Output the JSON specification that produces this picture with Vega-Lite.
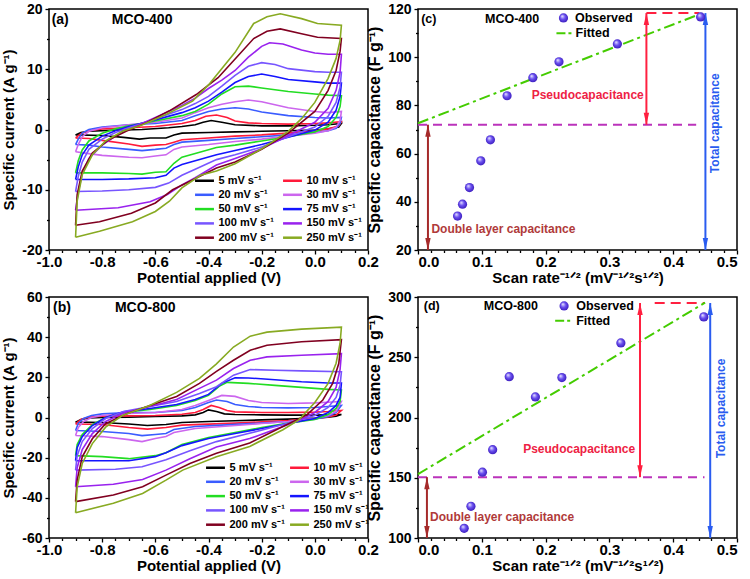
{
"$schema":"https://vega.github.io/schema/vega-lite/v6.json",
"padding":{"left":1,"top":1,"right":4,"bottom":4},
"background":"white",
"columns":2,
"spacing":{"row":47,"column":50},
"bounds":"flush",
"resolve":{"scale":{"color":"independent"},"legend":{"color":"independent"}},
"config":{
 "font":"Liberation Sans",
 "view":{"stroke":"black","strokeWidth":1.5},
 "axis":{"labelFont":"Liberation Sans","labelFontWeight":"bold","labelFontSize":14,"labelColor":"black","titleFont":"Liberation Sans","titleFontWeight":"bold","titleFontSize":15,"titleColor":"black","grid":false,"domain":false,"tickColor":"black","tickSize":4,"tickWidth":1.3,"labelPadding":3,"titlePadding":3,"labelOverlap":false},
 "axisX":{"labelPadding":0,"titlePadding":1.5},
 "axisY":{"labelPadding":3,"titlePadding":5},
 "text":{"font":"Liberation Sans","fontWeight":"bold"}
},
"datasets":{
"a":[
{"s":5,"i":0,"x":-0.9,"y":-0.9},{"s":5,"i":1,"x":-0.88,"y":-0.5},{"s":5,"i":2,"x":-0.85,"y":-0.3},{"s":5,"i":3,"x":-0.75,"y":-0.1},{"s":5,"i":4,"x":-0.65,"y":0},{"s":5,"i":5,"x":-0.55,"y":0.3},{"s":5,"i":6,"x":-0.5,"y":0.5},{"s":5,"i":7,"x":-0.45,"y":0.8},{"s":5,"i":8,"x":-0.42,"y":1.2},{"s":5,"i":9,"x":-0.39,"y":1.5},{"s":5,"i":10,"x":-0.35,"y":1.2},{"s":5,"i":11,"x":-0.3,"y":0.8},{"s":5,"i":12,"x":-0.2,"y":0.6},{"s":5,"i":13,"x":-0.1,"y":0.6},{"s":5,"i":14,"x":0,"y":0.7},{"s":5,"i":15,"x":0.05,"y":0.8},{"s":5,"i":16,"x":0.1,"y":1.0},{"s":5,"i":17,"x":0.09,"y":0.4},{"s":5,"i":18,"x":0.05,"y":0.1},{"s":5,"i":19,"x":0,"y":-0.1},{"s":5,"i":20,"x":-0.1,"y":-0.2},{"s":5,"i":21,"x":-0.2,"y":-0.3},{"s":5,"i":22,"x":-0.3,"y":-0.4},{"s":5,"i":23,"x":-0.4,"y":-0.5},{"s":5,"i":24,"x":-0.5,"y":-0.6},{"s":5,"i":25,"x":-0.53,"y":-0.9},{"s":5,"i":26,"x":-0.56,"y":-1.4},{"s":5,"i":27,"x":-0.62,"y":-1.4},{"s":5,"i":28,"x":-0.66,"y":-1.6},{"s":5,"i":29,"x":-0.72,"y":-1.3},{"s":5,"i":30,"x":-0.8,"y":-1.0},{"s":5,"i":31,"x":-0.9,"y":-0.9},
{"s":10,"i":0,"x":-0.9,"y":-1.4},{"s":10,"i":1,"x":-0.88,"y":-0.7},{"s":10,"i":2,"x":-0.85,"y":-0.2},{"s":10,"i":3,"x":-0.8,"y":0.1},{"s":10,"i":4,"x":-0.7,"y":0.3},{"s":10,"i":5,"x":-0.6,"y":0.5},{"s":10,"i":6,"x":-0.5,"y":1.0},{"s":10,"i":7,"x":-0.45,"y":1.5},{"s":10,"i":8,"x":-0.41,"y":2.2},{"s":10,"i":9,"x":-0.37,"y":2.4},{"s":10,"i":10,"x":-0.33,"y":2.0},{"s":10,"i":11,"x":-0.3,"y":1.4},{"s":10,"i":12,"x":-0.25,"y":1.1},{"s":10,"i":13,"x":-0.2,"y":1.0},{"s":10,"i":14,"x":-0.1,"y":0.9},{"s":10,"i":15,"x":0,"y":1.0},{"s":10,"i":16,"x":0.05,"y":1.1},{"s":10,"i":17,"x":0.1,"y":1.3},{"s":10,"i":18,"x":0.09,"y":0.6},{"s":10,"i":19,"x":0.05,"y":0.1},{"s":10,"i":20,"x":0,"y":-0.2},{"s":10,"i":21,"x":-0.1,"y":-0.6},{"s":10,"i":22,"x":-0.2,"y":-0.9},{"s":10,"i":23,"x":-0.3,"y":-1.1},{"s":10,"i":24,"x":-0.4,"y":-1.4},{"s":10,"i":25,"x":-0.5,"y":-1.7},{"s":10,"i":26,"x":-0.53,"y":-2.1},{"s":10,"i":27,"x":-0.56,"y":-2.5},{"s":10,"i":28,"x":-0.6,"y":-2.6},{"s":10,"i":29,"x":-0.65,"y":-2.8},{"s":10,"i":30,"x":-0.7,"y":-2.4},{"s":10,"i":31,"x":-0.8,"y":-1.8},{"s":10,"i":32,"x":-0.85,"y":-1.5},{"s":10,"i":33,"x":-0.9,"y":-1.4},
{"s":20,"i":0,"x":-0.9,"y":-2.5},{"s":20,"i":1,"x":-0.89,"y":-1.6},{"s":20,"i":2,"x":-0.875,"y":-0.6},{"s":20,"i":3,"x":-0.85,"y":0},{"s":20,"i":4,"x":-0.8,"y":0.4},{"s":20,"i":5,"x":-0.7,"y":0.8},{"s":20,"i":6,"x":-0.6,"y":1.0},{"s":20,"i":7,"x":-0.5,"y":1.5},{"s":20,"i":8,"x":-0.45,"y":2.3},{"s":20,"i":9,"x":-0.4,"y":3.0},{"s":20,"i":10,"x":-0.35,"y":3.4},{"s":20,"i":11,"x":-0.3,"y":3.6},{"s":20,"i":12,"x":-0.25,"y":3.4},{"s":20,"i":13,"x":-0.2,"y":2.9},{"s":20,"i":14,"x":-0.1,"y":2.3},{"s":20,"i":15,"x":0,"y":2.0},{"s":20,"i":16,"x":0.05,"y":1.9},{"s":20,"i":17,"x":0.1,"y":2.0},{"s":20,"i":18,"x":0.095,"y":1.0},{"s":20,"i":19,"x":0.08,"y":0.2},{"s":20,"i":20,"x":0.05,"y":-0.2},{"s":20,"i":21,"x":0,"y":-0.5},{"s":20,"i":22,"x":-0.1,"y":-0.9},{"s":20,"i":23,"x":-0.2,"y":-1.2},{"s":20,"i":24,"x":-0.3,"y":-1.5},{"s":20,"i":25,"x":-0.4,"y":-1.8},{"s":20,"i":26,"x":-0.5,"y":-2.1},{"s":20,"i":27,"x":-0.53,"y":-2.5},{"s":20,"i":28,"x":-0.56,"y":-3.1},{"s":20,"i":29,"x":-0.6,"y":-3.3},{"s":20,"i":30,"x":-0.65,"y":-3.5},{"s":20,"i":31,"x":-0.7,"y":-3.3},{"s":20,"i":32,"x":-0.8,"y":-2.9},{"s":20,"i":33,"x":-0.85,"y":-2.6},{"s":20,"i":34,"x":-0.9,"y":-2.5},
{"s":30,"i":0,"x":-0.9,"y":-3.7},{"s":30,"i":1,"x":-0.89,"y":-2.5},{"s":30,"i":2,"x":-0.875,"y":-1.2},{"s":30,"i":3,"x":-0.85,"y":-0.3},{"s":30,"i":4,"x":-0.8,"y":0.3},{"s":30,"i":5,"x":-0.7,"y":0.8},{"s":30,"i":6,"x":-0.6,"y":1.2},{"s":30,"i":7,"x":-0.5,"y":1.9},{"s":30,"i":8,"x":-0.45,"y":2.8},{"s":30,"i":9,"x":-0.4,"y":3.6},{"s":30,"i":10,"x":-0.35,"y":4.2},{"s":30,"i":11,"x":-0.3,"y":4.6},{"s":30,"i":12,"x":-0.25,"y":4.9},{"s":30,"i":13,"x":-0.2,"y":4.6},{"s":30,"i":14,"x":-0.15,"y":4.1},{"s":30,"i":15,"x":-0.1,"y":3.6},{"s":30,"i":16,"x":0,"y":3.0},{"s":30,"i":17,"x":0.05,"y":2.8},{"s":30,"i":18,"x":0.1,"y":3.0},{"s":30,"i":19,"x":0.095,"y":1.5},{"s":30,"i":20,"x":0.08,"y":0.4},{"s":30,"i":21,"x":0.05,"y":-0.2},{"s":30,"i":22,"x":0,"y":-0.6},{"s":30,"i":23,"x":-0.1,"y":-1.1},{"s":30,"i":24,"x":-0.2,"y":-1.6},{"s":30,"i":25,"x":-0.3,"y":-2.0},{"s":30,"i":26,"x":-0.4,"y":-2.5},{"s":30,"i":27,"x":-0.5,"y":-2.9},{"s":30,"i":28,"x":-0.53,"y":-3.3},{"s":30,"i":29,"x":-0.56,"y":-4.2},{"s":30,"i":30,"x":-0.6,"y":-4.4},{"s":30,"i":31,"x":-0.65,"y":-4.7},{"s":30,"i":32,"x":-0.7,"y":-4.6},{"s":30,"i":33,"x":-0.8,"y":-4.3},{"s":30,"i":34,"x":-0.85,"y":-4.0},{"s":30,"i":35,"x":-0.9,"y":-3.7},
{"s":50,"i":0,"x":-0.9,"y":-7.2},{"s":50,"i":1,"x":-0.89,"y":-5.2},{"s":50,"i":2,"x":-0.875,"y":-3.4},{"s":50,"i":3,"x":-0.85,"y":-1.9},{"s":50,"i":4,"x":-0.8,"y":-0.6},{"s":50,"i":5,"x":-0.75,"y":0.1},{"s":50,"i":6,"x":-0.7,"y":0.6},{"s":50,"i":7,"x":-0.6,"y":1.4},{"s":50,"i":8,"x":-0.5,"y":2.3},{"s":50,"i":9,"x":-0.45,"y":3.0},{"s":50,"i":10,"x":-0.4,"y":4.2},{"s":50,"i":11,"x":-0.35,"y":5.9},{"s":50,"i":12,"x":-0.3,"y":7.1},{"s":50,"i":13,"x":-0.25,"y":7.2},{"s":50,"i":14,"x":-0.2,"y":6.9},{"s":50,"i":15,"x":-0.1,"y":6.3},{"s":50,"i":16,"x":0,"y":5.9},{"s":50,"i":17,"x":0.05,"y":5.7},{"s":50,"i":18,"x":0.1,"y":5.6},{"s":50,"i":19,"x":0.095,"y":3.8},{"s":50,"i":20,"x":0.08,"y":2.0},{"s":50,"i":21,"x":0.05,"y":0.5},{"s":50,"i":22,"x":0,"y":-0.4},{"s":50,"i":23,"x":-0.1,"y":-1.2},{"s":50,"i":24,"x":-0.2,"y":-1.9},{"s":50,"i":25,"x":-0.3,"y":-2.6},{"s":50,"i":26,"x":-0.37,"y":-3.0},{"s":50,"i":27,"x":-0.45,"y":-4.0},{"s":50,"i":28,"x":-0.5,"y":-4.6},{"s":50,"i":29,"x":-0.53,"y":-5.6},{"s":50,"i":30,"x":-0.56,"y":-7.0},{"s":50,"i":31,"x":-0.6,"y":-7.1},{"s":50,"i":32,"x":-0.65,"y":-7.4},{"s":50,"i":33,"x":-0.7,"y":-7.3},{"s":50,"i":34,"x":-0.8,"y":-7.2},{"s":50,"i":35,"x":-0.9,"y":-7.2},
{"s":75,"i":0,"x":-0.9,"y":-8.3},{"s":75,"i":1,"x":-0.89,"y":-6.2},{"s":75,"i":2,"x":-0.875,"y":-4.2},{"s":75,"i":3,"x":-0.85,"y":-2.6},{"s":75,"i":4,"x":-0.8,"y":-1.1},{"s":75,"i":5,"x":-0.75,"y":-0.2},{"s":75,"i":6,"x":-0.7,"y":0.5},{"s":75,"i":7,"x":-0.6,"y":1.6},{"s":75,"i":8,"x":-0.5,"y":2.8},{"s":75,"i":9,"x":-0.45,"y":3.6},{"s":75,"i":10,"x":-0.4,"y":4.7},{"s":75,"i":11,"x":-0.35,"y":6.2},{"s":75,"i":12,"x":-0.3,"y":7.8},{"s":75,"i":13,"x":-0.25,"y":8.8},{"s":75,"i":14,"x":-0.2,"y":9.2},{"s":75,"i":15,"x":-0.15,"y":8.8},{"s":75,"i":16,"x":-0.1,"y":8.3},{"s":75,"i":17,"x":0,"y":7.9},{"s":75,"i":18,"x":0.05,"y":7.7},{"s":75,"i":19,"x":0.1,"y":7.7},{"s":75,"i":20,"x":0.095,"y":5.5},{"s":75,"i":21,"x":0.08,"y":3.2},{"s":75,"i":22,"x":0.05,"y":1.2},{"s":75,"i":23,"x":0,"y":-0.1},{"s":75,"i":24,"x":-0.1,"y":-1.3},{"s":75,"i":25,"x":-0.2,"y":-2.5},{"s":75,"i":26,"x":-0.3,"y":-3.5},{"s":75,"i":27,"x":-0.37,"y":-4.2},{"s":75,"i":28,"x":-0.45,"y":-5.2},{"s":75,"i":29,"x":-0.5,"y":-5.8},{"s":75,"i":30,"x":-0.53,"y":-6.4},{"s":75,"i":31,"x":-0.56,"y":-7.6},{"s":75,"i":32,"x":-0.6,"y":-8.0},{"s":75,"i":33,"x":-0.7,"y":-8.2},{"s":75,"i":34,"x":-0.8,"y":-8.3},{"s":75,"i":35,"x":-0.9,"y":-8.3},
{"s":100,"i":0,"x":-0.9,"y":-10.3},{"s":100,"i":1,"x":-0.89,"y":-7.8},{"s":100,"i":2,"x":-0.875,"y":-5.4},{"s":100,"i":3,"x":-0.85,"y":-3.3},{"s":100,"i":4,"x":-0.8,"y":-1.6},{"s":100,"i":5,"x":-0.75,"y":-0.5},{"s":100,"i":6,"x":-0.7,"y":0.3},{"s":100,"i":7,"x":-0.6,"y":1.8},{"s":100,"i":8,"x":-0.5,"y":3.3},{"s":100,"i":9,"x":-0.45,"y":4.3},{"s":100,"i":10,"x":-0.4,"y":5.5},{"s":100,"i":11,"x":-0.35,"y":7.2},{"s":100,"i":12,"x":-0.3,"y":9.0},{"s":100,"i":13,"x":-0.25,"y":10.5},{"s":100,"i":14,"x":-0.2,"y":11.1},{"s":100,"i":15,"x":-0.15,"y":10.8},{"s":100,"i":16,"x":-0.1,"y":10.1},{"s":100,"i":17,"x":0,"y":9.6},{"s":100,"i":18,"x":0.05,"y":9.5},{"s":100,"i":19,"x":0.1,"y":9.5},{"s":100,"i":20,"x":0.095,"y":7.0},{"s":100,"i":21,"x":0.08,"y":4.5},{"s":100,"i":22,"x":0.05,"y":2.2},{"s":100,"i":23,"x":0,"y":0.4},{"s":100,"i":24,"x":-0.1,"y":-1.2},{"s":100,"i":25,"x":-0.2,"y":-2.9},{"s":100,"i":26,"x":-0.3,"y":-4.2},{"s":100,"i":27,"x":-0.37,"y":-5.0},{"s":100,"i":28,"x":-0.45,"y":-6.6},{"s":100,"i":29,"x":-0.5,"y":-7.6},{"s":100,"i":30,"x":-0.55,"y":-8.9},{"s":100,"i":31,"x":-0.6,"y":-9.6},{"s":100,"i":32,"x":-0.7,"y":-10.0},{"s":100,"i":33,"x":-0.8,"y":-10.2},{"s":100,"i":34,"x":-0.9,"y":-10.3},
{"s":150,"i":0,"x":-0.9,"y":-13.4},{"s":150,"i":1,"x":-0.89,"y":-10.4},{"s":150,"i":2,"x":-0.875,"y":-7.4},{"s":150,"i":3,"x":-0.85,"y":-4.8},{"s":150,"i":4,"x":-0.8,"y":-2.6},{"s":150,"i":5,"x":-0.75,"y":-1.1},{"s":150,"i":6,"x":-0.7,"y":0.0},{"s":150,"i":7,"x":-0.6,"y":2.0},{"s":150,"i":8,"x":-0.5,"y":4.0},{"s":150,"i":9,"x":-0.45,"y":5.2},{"s":150,"i":10,"x":-0.4,"y":6.8},{"s":150,"i":11,"x":-0.35,"y":8.2},{"s":150,"i":12,"x":-0.3,"y":9.8},{"s":150,"i":13,"x":-0.25,"y":12.0},{"s":150,"i":14,"x":-0.2,"y":13.8},{"s":150,"i":15,"x":-0.17,"y":14.4},{"s":150,"i":16,"x":-0.12,"y":14.2},{"s":150,"i":17,"x":-0.05,"y":13.2},{"s":150,"i":18,"x":0,"y":12.7},{"s":150,"i":19,"x":0.05,"y":12.5},{"s":150,"i":20,"x":0.1,"y":12.5},{"s":150,"i":21,"x":0.095,"y":9.5},{"s":150,"i":22,"x":0.08,"y":6.5},{"s":150,"i":23,"x":0.05,"y":3.5},{"s":150,"i":24,"x":0,"y":1.2},{"s":150,"i":25,"x":-0.1,"y":-1.0},{"s":150,"i":26,"x":-0.2,"y":-3.2},{"s":150,"i":27,"x":-0.3,"y":-4.8},{"s":150,"i":28,"x":-0.37,"y":-5.9},{"s":150,"i":29,"x":-0.45,"y":-8.0},{"s":150,"i":30,"x":-0.5,"y":-9.2},{"s":150,"i":31,"x":-0.555,"y":-10.8},{"s":150,"i":32,"x":-0.62,"y":-12.0},{"s":150,"i":33,"x":-0.74,"y":-13.0},{"s":150,"i":34,"x":-0.9,"y":-13.4},
{"s":200,"i":0,"x":-0.9,"y":-15.9},{"s":200,"i":1,"x":-0.894,"y":-10.8},{"s":200,"i":2,"x":-0.875,"y":-6.9},{"s":200,"i":3,"x":-0.837,"y":-3.9},{"s":200,"i":4,"x":-0.775,"y":-1.7},{"s":200,"i":5,"x":-0.71,"y":-0.3},{"s":200,"i":6,"x":-0.635,"y":1.1},{"s":200,"i":7,"x":-0.547,"y":3.1},{"s":200,"i":8,"x":-0.446,"y":5.8},{"s":200,"i":9,"x":-0.364,"y":8.6},{"s":200,"i":10,"x":-0.3,"y":11.7},{"s":200,"i":11,"x":-0.23,"y":15.1},{"s":200,"i":12,"x":-0.18,"y":16.3},{"s":200,"i":13,"x":-0.13,"y":16.7},{"s":200,"i":14,"x":-0.05,"y":15.9},{"s":200,"i":15,"x":0.01,"y":15.3},{"s":200,"i":16,"x":0.1,"y":15.1},{"s":200,"i":17,"x":0.095,"y":13.0},{"s":200,"i":18,"x":0.08,"y":9.8},{"s":200,"i":19,"x":0.05,"y":6.5},{"s":200,"i":20,"x":0,"y":3.0},{"s":200,"i":21,"x":-0.1,"y":-0.6},{"s":200,"i":22,"x":-0.2,"y":-3.3},{"s":200,"i":23,"x":-0.3,"y":-5.4},{"s":200,"i":24,"x":-0.37,"y":-6.4},{"s":200,"i":25,"x":-0.47,"y":-8.6},{"s":200,"i":26,"x":-0.535,"y":-10.0},{"s":200,"i":27,"x":-0.6,"y":-12.2},{"s":200,"i":28,"x":-0.69,"y":-13.9},{"s":200,"i":29,"x":-0.81,"y":-15.3},{"s":200,"i":30,"x":-0.9,"y":-15.9},
{"s":250,"i":0,"x":-0.9,"y":-17.9},{"s":250,"i":1,"x":-0.894,"y":-11.9},{"s":250,"i":2,"x":-0.875,"y":-7.5},{"s":250,"i":3,"x":-0.837,"y":-4.2},{"s":250,"i":4,"x":-0.787,"y":-1.9},{"s":250,"i":5,"x":-0.724,"y":-0.3},{"s":250,"i":6,"x":-0.648,"y":0.8},{"s":250,"i":7,"x":-0.56,"y":2.5},{"s":250,"i":8,"x":-0.46,"y":4.7},{"s":250,"i":9,"x":-0.4,"y":7.4},{"s":250,"i":10,"x":-0.3,"y":12.8},{"s":250,"i":11,"x":-0.23,"y":17.6},{"s":250,"i":12,"x":-0.18,"y":18.7},{"s":250,"i":13,"x":-0.13,"y":19.2},{"s":250,"i":14,"x":-0.05,"y":18.4},{"s":250,"i":15,"x":0.01,"y":17.6},{"s":250,"i":16,"x":0.1,"y":17.3},{"s":250,"i":17,"x":0.095,"y":14.8},{"s":250,"i":18,"x":0.08,"y":11.8},{"s":250,"i":19,"x":0.05,"y":8.5},{"s":250,"i":20,"x":0,"y":4.5},{"s":250,"i":21,"x":-0.05,"y":1.8},{"s":250,"i":22,"x":-0.1,"y":-0.3},{"s":250,"i":23,"x":-0.2,"y":-3.2},{"s":250,"i":24,"x":-0.3,"y":-5.7},{"s":250,"i":25,"x":-0.37,"y":-6.9},{"s":250,"i":26,"x":-0.43,"y":-7.6},{"s":250,"i":27,"x":-0.5,"y":-9.7},{"s":250,"i":28,"x":-0.547,"y":-11.9},{"s":250,"i":29,"x":-0.6,"y":-13.6},{"s":250,"i":30,"x":-0.686,"y":-15.3},{"s":250,"i":31,"x":-0.81,"y":-16.9},{"s":250,"i":32,"x":-0.9,"y":-17.9}
],
"b":[
{"s":5,"i":0,"x":-0.9,"y":-2.3},{"s":5,"i":1,"x":-0.88,"y":-1.0},{"s":5,"i":2,"x":-0.85,"y":-0.2},{"s":5,"i":3,"x":-0.8,"y":0},{"s":5,"i":4,"x":-0.7,"y":0.2},{"s":5,"i":5,"x":-0.6,"y":0.5},{"s":5,"i":6,"x":-0.5,"y":0.8},{"s":5,"i":7,"x":-0.45,"y":1.3},{"s":5,"i":8,"x":-0.42,"y":2.5},{"s":5,"i":9,"x":-0.4,"y":3.8},{"s":5,"i":10,"x":-0.37,"y":3.0},{"s":5,"i":11,"x":-0.34,"y":1.8},{"s":5,"i":12,"x":-0.3,"y":1.5},{"s":5,"i":13,"x":-0.2,"y":1.3},{"s":5,"i":14,"x":-0.1,"y":1.2},{"s":5,"i":15,"x":0,"y":1.2},{"s":5,"i":16,"x":0.05,"y":1.3},{"s":5,"i":17,"x":0.1,"y":1.5},{"s":5,"i":18,"x":0.08,"y":0.6},{"s":5,"i":19,"x":0.05,"y":0.2},{"s":5,"i":20,"x":0,"y":-0.3},{"s":5,"i":21,"x":-0.1,"y":-0.8},{"s":5,"i":22,"x":-0.2,"y":-1.2},{"s":5,"i":23,"x":-0.3,"y":-1.6},{"s":5,"i":24,"x":-0.4,"y":-2.0},{"s":5,"i":25,"x":-0.5,"y":-2.5},{"s":5,"i":26,"x":-0.56,"y":-3.5},{"s":5,"i":27,"x":-0.63,"y":-4.0},{"s":5,"i":28,"x":-0.7,"y":-3.2},{"s":5,"i":29,"x":-0.8,"y":-2.5},{"s":5,"i":30,"x":-0.9,"y":-2.3},
{"s":10,"i":0,"x":-0.9,"y":-3.2},{"s":10,"i":1,"x":-0.88,"y":-1.0},{"s":10,"i":2,"x":-0.85,"y":0.2},{"s":10,"i":3,"x":-0.8,"y":0.6},{"s":10,"i":4,"x":-0.7,"y":0.8},{"s":10,"i":5,"x":-0.6,"y":1.0},{"s":10,"i":6,"x":-0.5,"y":1.6},{"s":10,"i":7,"x":-0.45,"y":2.5},{"s":10,"i":8,"x":-0.42,"y":4.0},{"s":10,"i":9,"x":-0.39,"y":6.0},{"s":10,"i":10,"x":-0.36,"y":5.0},{"s":10,"i":11,"x":-0.33,"y":3.5},{"s":10,"i":12,"x":-0.3,"y":2.8},{"s":10,"i":13,"x":-0.2,"y":2.5},{"s":10,"i":14,"x":-0.1,"y":2.5},{"s":10,"i":15,"x":0,"y":2.7},{"s":10,"i":16,"x":0.05,"y":3.0},{"s":10,"i":17,"x":0.1,"y":3.5},{"s":10,"i":18,"x":0.08,"y":1.2},{"s":10,"i":19,"x":0.05,"y":0.3},{"s":10,"i":20,"x":0,"y":-0.5},{"s":10,"i":21,"x":-0.1,"y":-1.5},{"s":10,"i":22,"x":-0.2,"y":-2.2},{"s":10,"i":23,"x":-0.3,"y":-2.8},{"s":10,"i":24,"x":-0.4,"y":-3.3},{"s":10,"i":25,"x":-0.5,"y":-3.8},{"s":10,"i":26,"x":-0.56,"y":-5.0},{"s":10,"i":27,"x":-0.63,"y":-5.8},{"s":10,"i":28,"x":-0.7,"y":-5.0},{"s":10,"i":29,"x":-0.8,"y":-3.5},{"s":10,"i":30,"x":-0.9,"y":-3.2},
{"s":20,"i":0,"x":-0.9,"y":-6.5},{"s":20,"i":1,"x":-0.89,"y":-3.0},{"s":20,"i":2,"x":-0.87,"y":-0.5},{"s":20,"i":3,"x":-0.84,"y":1.0},{"s":20,"i":4,"x":-0.8,"y":1.8},{"s":20,"i":5,"x":-0.7,"y":2.5},{"s":20,"i":6,"x":-0.6,"y":2.5},{"s":20,"i":7,"x":-0.5,"y":3.5},{"s":20,"i":8,"x":-0.45,"y":5.0},{"s":20,"i":9,"x":-0.4,"y":7.5},{"s":20,"i":10,"x":-0.37,"y":8.7},{"s":20,"i":11,"x":-0.33,"y":8.0},{"s":20,"i":12,"x":-0.3,"y":6.5},{"s":20,"i":13,"x":-0.25,"y":5.5},{"s":20,"i":14,"x":-0.2,"y":5.0},{"s":20,"i":15,"x":-0.1,"y":4.8},{"s":20,"i":16,"x":0,"y":5.0},{"s":20,"i":17,"x":0.05,"y":5.5},{"s":20,"i":18,"x":0.1,"y":6.0},{"s":20,"i":19,"x":0.08,"y":2.5},{"s":20,"i":20,"x":0.05,"y":0.5},{"s":20,"i":21,"x":0,"y":-0.8},{"s":20,"i":22,"x":-0.1,"y":-2.0},{"s":20,"i":23,"x":-0.2,"y":-2.8},{"s":20,"i":24,"x":-0.35,"y":-3.8},{"s":20,"i":25,"x":-0.45,"y":-4.5},{"s":20,"i":26,"x":-0.53,"y":-6.0},{"s":20,"i":27,"x":-0.56,"y":-8.0},{"s":20,"i":28,"x":-0.6,"y":-8.5},{"s":20,"i":29,"x":-0.65,"y":-9.0},{"s":20,"i":30,"x":-0.7,"y":-8.0},{"s":20,"i":31,"x":-0.8,"y":-7.0},{"s":20,"i":32,"x":-0.9,"y":-6.5},
{"s":30,"i":0,"x":-0.9,"y":-9.0},{"s":30,"i":1,"x":-0.89,"y":-5.0},{"s":30,"i":2,"x":-0.87,"y":-2.0},{"s":30,"i":3,"x":-0.84,"y":0},{"s":30,"i":4,"x":-0.8,"y":1.0},{"s":30,"i":5,"x":-0.7,"y":2.0},{"s":30,"i":6,"x":-0.6,"y":2.5},{"s":30,"i":7,"x":-0.5,"y":4.0},{"s":30,"i":8,"x":-0.45,"y":6.0},{"s":30,"i":9,"x":-0.4,"y":8.5},{"s":30,"i":10,"x":-0.35,"y":11.0},{"s":30,"i":11,"x":-0.3,"y":10.5},{"s":30,"i":12,"x":-0.25,"y":8.5},{"s":30,"i":13,"x":-0.2,"y":7.5},{"s":30,"i":14,"x":-0.1,"y":7.0},{"s":30,"i":15,"x":0,"y":7.3},{"s":30,"i":16,"x":0.05,"y":7.6},{"s":30,"i":17,"x":0.1,"y":8.0},{"s":30,"i":18,"x":0.08,"y":3.0},{"s":30,"i":19,"x":0.05,"y":1.0},{"s":30,"i":20,"x":0,"y":-0.5},{"s":30,"i":21,"x":-0.1,"y":-2.0},{"s":30,"i":22,"x":-0.2,"y":-3.0},{"s":30,"i":23,"x":-0.35,"y":-4.5},{"s":30,"i":24,"x":-0.45,"y":-5.5},{"s":30,"i":25,"x":-0.53,"y":-7.5},{"s":30,"i":26,"x":-0.56,"y":-9.5},{"s":30,"i":27,"x":-0.6,"y":-10.5},{"s":30,"i":28,"x":-0.65,"y":-12.0},{"s":30,"i":29,"x":-0.7,"y":-11.0},{"s":30,"i":30,"x":-0.8,"y":-9.5},{"s":30,"i":31,"x":-0.9,"y":-9.0},
{"s":50,"i":0,"x":-0.9,"y":-19.0},{"s":50,"i":1,"x":-0.894,"y":-13.5},{"s":50,"i":2,"x":-0.875,"y":-8.5},{"s":50,"i":3,"x":-0.837,"y":-3.5},{"s":50,"i":4,"x":-0.787,"y":0},{"s":50,"i":5,"x":-0.72,"y":2.5},{"s":50,"i":6,"x":-0.62,"y":4.0},{"s":50,"i":7,"x":-0.52,"y":6.0},{"s":50,"i":8,"x":-0.45,"y":8.5},{"s":50,"i":9,"x":-0.4,"y":11.0},{"s":50,"i":10,"x":-0.36,"y":15.5},{"s":50,"i":11,"x":-0.33,"y":17.5},{"s":50,"i":12,"x":-0.25,"y":17.0},{"s":50,"i":13,"x":-0.15,"y":16.0},{"s":50,"i":14,"x":-0.05,"y":15.0},{"s":50,"i":15,"x":0.05,"y":14.0},{"s":50,"i":16,"x":0.1,"y":13.7},{"s":50,"i":17,"x":0.095,"y":8.0},{"s":50,"i":18,"x":0.08,"y":4.5},{"s":50,"i":19,"x":0.05,"y":1.5},{"s":50,"i":20,"x":0,"y":-1.0},{"s":50,"i":21,"x":-0.1,"y":-2.8},{"s":50,"i":22,"x":-0.2,"y":-5.0},{"s":50,"i":23,"x":-0.3,"y":-7.5},{"s":50,"i":24,"x":-0.4,"y":-10.0},{"s":50,"i":25,"x":-0.5,"y":-13.5},{"s":50,"i":26,"x":-0.56,"y":-17.5},{"s":50,"i":27,"x":-0.6,"y":-19.0},{"s":50,"i":28,"x":-0.7,"y":-20.5},{"s":50,"i":29,"x":-0.8,"y":-19.5},{"s":50,"i":30,"x":-0.9,"y":-19.0},
{"s":75,"i":0,"x":-0.9,"y":-21.5},{"s":75,"i":1,"x":-0.894,"y":-15.0},{"s":75,"i":2,"x":-0.875,"y":-9.5},{"s":75,"i":3,"x":-0.837,"y":-4.0},{"s":75,"i":4,"x":-0.787,"y":0},{"s":75,"i":5,"x":-0.72,"y":2.8},{"s":75,"i":6,"x":-0.62,"y":4.5},{"s":75,"i":7,"x":-0.52,"y":6.5},{"s":75,"i":8,"x":-0.45,"y":9.0},{"s":75,"i":9,"x":-0.4,"y":11.5},{"s":75,"i":10,"x":-0.35,"y":17.0},{"s":75,"i":11,"x":-0.3,"y":19.8},{"s":75,"i":12,"x":-0.25,"y":19.7},{"s":75,"i":13,"x":-0.15,"y":18.8},{"s":75,"i":14,"x":-0.05,"y":17.8},{"s":75,"i":15,"x":0.05,"y":17.2},{"s":75,"i":16,"x":0.1,"y":17.2},{"s":75,"i":17,"x":0.095,"y":10.0},{"s":75,"i":18,"x":0.08,"y":6.0},{"s":75,"i":19,"x":0.05,"y":2.5},{"s":75,"i":20,"x":0,"y":-0.5},{"s":75,"i":21,"x":-0.1,"y":-3.0},{"s":75,"i":22,"x":-0.2,"y":-5.5},{"s":75,"i":23,"x":-0.3,"y":-8.0},{"s":75,"i":24,"x":-0.4,"y":-10.5},{"s":75,"i":25,"x":-0.5,"y":-14.0},{"s":75,"i":26,"x":-0.56,"y":-17.5},{"s":75,"i":27,"x":-0.6,"y":-19.5},{"s":75,"i":28,"x":-0.7,"y":-21.5},{"s":75,"i":29,"x":-0.8,"y":-21.5},{"s":75,"i":30,"x":-0.9,"y":-21.5},
{"s":100,"i":0,"x":-0.9,"y":-26.2},{"s":100,"i":1,"x":-0.894,"y":-19.0},{"s":100,"i":2,"x":-0.875,"y":-12.0},{"s":100,"i":3,"x":-0.837,"y":-5.5},{"s":100,"i":4,"x":-0.787,"y":-0.5},{"s":100,"i":5,"x":-0.72,"y":3.0},{"s":100,"i":6,"x":-0.62,"y":5.5},{"s":100,"i":7,"x":-0.52,"y":8.0},{"s":100,"i":8,"x":-0.434,"y":12.0},{"s":100,"i":9,"x":-0.37,"y":15.3},{"s":100,"i":10,"x":-0.306,"y":21.1},{"s":100,"i":11,"x":-0.243,"y":23.9},{"s":100,"i":12,"x":-0.15,"y":23.5},{"s":100,"i":13,"x":-0.05,"y":23.2},{"s":100,"i":14,"x":0.1,"y":22.8},{"s":100,"i":15,"x":0.095,"y":16.0},{"s":100,"i":16,"x":0.08,"y":10.0},{"s":100,"i":17,"x":0.05,"y":5.0},{"s":100,"i":18,"x":0,"y":1.0},{"s":100,"i":19,"x":-0.12,"y":-3.5},{"s":100,"i":20,"x":-0.25,"y":-8.0},{"s":100,"i":21,"x":-0.37,"y":-12.0},{"s":100,"i":22,"x":-0.47,"y":-16.5},{"s":100,"i":23,"x":-0.56,"y":-21.0},{"s":100,"i":24,"x":-0.65,"y":-24.5},{"s":100,"i":25,"x":-0.75,"y":-25.8},{"s":100,"i":26,"x":-0.9,"y":-26.2},
{"s":150,"i":0,"x":-0.9,"y":-34.5},{"s":150,"i":1,"x":-0.894,"y":-25.0},{"s":150,"i":2,"x":-0.875,"y":-16.0},{"s":150,"i":3,"x":-0.837,"y":-8.0},{"s":150,"i":4,"x":-0.787,"y":-2.0},{"s":150,"i":5,"x":-0.72,"y":2.2},{"s":150,"i":6,"x":-0.62,"y":5.5},{"s":150,"i":7,"x":-0.52,"y":9.0},{"s":150,"i":8,"x":-0.434,"y":14.5},{"s":150,"i":9,"x":-0.37,"y":18.6},{"s":150,"i":10,"x":-0.306,"y":24.4},{"s":150,"i":11,"x":-0.243,"y":28.5},{"s":150,"i":12,"x":-0.18,"y":30.2},{"s":150,"i":13,"x":-0.05,"y":31.0},{"s":150,"i":14,"x":0.1,"y":31.8},{"s":150,"i":15,"x":0.095,"y":24.0},{"s":150,"i":16,"x":0.08,"y":15.0},{"s":150,"i":17,"x":0.05,"y":8.0},{"s":150,"i":18,"x":0,"y":2.5},{"s":150,"i":19,"x":-0.06,"y":-1.5},{"s":150,"i":20,"x":-0.12,"y":-4.5},{"s":150,"i":21,"x":-0.245,"y":-10.5},{"s":150,"i":22,"x":-0.37,"y":-14.7},{"s":150,"i":23,"x":-0.47,"y":-20.5},{"s":150,"i":24,"x":-0.56,"y":-26.2},{"s":150,"i":25,"x":-0.648,"y":-30.9},{"s":150,"i":26,"x":-0.758,"y":-33.2},{"s":150,"i":27,"x":-0.9,"y":-34.5},
{"s":200,"i":0,"x":-0.9,"y":-41.9},{"s":200,"i":1,"x":-0.894,"y":-31.2},{"s":200,"i":2,"x":-0.875,"y":-19.6},{"s":200,"i":3,"x":-0.837,"y":-10.6},{"s":200,"i":4,"x":-0.787,"y":-3.1},{"s":200,"i":5,"x":-0.71,"y":1.8},{"s":200,"i":6,"x":-0.623,"y":5.9},{"s":200,"i":7,"x":-0.52,"y":10.5},{"s":200,"i":8,"x":-0.434,"y":17.0},{"s":200,"i":9,"x":-0.37,"y":23.0},{"s":200,"i":10,"x":-0.306,"y":28.5},{"s":200,"i":11,"x":-0.243,"y":33.5},{"s":200,"i":12,"x":-0.18,"y":36.0},{"s":200,"i":13,"x":-0.05,"y":37.7},{"s":200,"i":14,"x":0.1,"y":38.8},{"s":200,"i":15,"x":0.09,"y":26.9},{"s":200,"i":16,"x":0.067,"y":17.0},{"s":200,"i":17,"x":0.03,"y":8.7},{"s":200,"i":18,"x":-0.03,"y":1.3},{"s":200,"i":19,"x":-0.12,"y":-4.5},{"s":200,"i":20,"x":-0.245,"y":-12.7},{"s":200,"i":21,"x":-0.37,"y":-17.8},{"s":200,"i":22,"x":-0.47,"y":-22.9},{"s":200,"i":23,"x":-0.56,"y":-28.7},{"s":200,"i":24,"x":-0.648,"y":-34.5},{"s":200,"i":25,"x":-0.758,"y":-38.6},{"s":200,"i":26,"x":-0.9,"y":-41.9},
{"s":250,"i":0,"x":-0.9,"y":-47.4},{"s":250,"i":1,"x":-0.894,"y":-34.5},{"s":250,"i":2,"x":-0.875,"y":-22.9},{"s":250,"i":3,"x":-0.837,"y":-13.0},{"s":250,"i":4,"x":-0.787,"y":-4.8},{"s":250,"i":5,"x":-0.724,"y":1.0},{"s":250,"i":6,"x":-0.623,"y":5.9},{"s":250,"i":7,"x":-0.52,"y":12.5},{"s":250,"i":8,"x":-0.434,"y":19.5},{"s":250,"i":9,"x":-0.371,"y":26.6},{"s":250,"i":10,"x":-0.306,"y":35.1},{"s":250,"i":11,"x":-0.243,"y":40.5},{"s":250,"i":12,"x":-0.18,"y":42.5},{"s":250,"i":13,"x":-0.05,"y":44.0},{"s":250,"i":14,"x":0.1,"y":45.0},{"s":250,"i":15,"x":0.095,"y":37.0},{"s":250,"i":16,"x":0.08,"y":27.0},{"s":250,"i":17,"x":0.05,"y":17.0},{"s":250,"i":18,"x":0,"y":7.5},{"s":250,"i":19,"x":-0.06,"y":-1.2},{"s":250,"i":20,"x":-0.12,"y":-6.1},{"s":250,"i":21,"x":-0.245,"y":-14.4},{"s":250,"i":22,"x":-0.37,"y":-19.5},{"s":250,"i":23,"x":-0.497,"y":-26.2},{"s":250,"i":24,"x":-0.56,"y":-31.2},{"s":250,"i":25,"x":-0.648,"y":-37.8},{"s":250,"i":26,"x":-0.758,"y":-42.7},{"s":250,"i":27,"x":-0.9,"y":-47.4}
]
},
"concat":[
{
 "width":319,"height":241,
 "resolve":{"axis":{"x":"independent","y":"independent"}},
 "encoding":{
  "x":{"field":"x","type":"quantitative","scale":{"domain":[-1,0.2],"nice":false,"zero":false},"axis":null},
  "y":{"field":"y","type":"quantitative","scale":{"domain":[-20,20],"nice":false,"zero":false},"axis":null}
 },
 "layer":[
  {"data":{"name":"a"},"mark":{"type":"line","strokeWidth":1.6,"clip":true},
   "encoding":{
    "x":{"field":"x","type":"quantitative","scale":{"domain":[-1,0.2],"nice":false,"zero":false},"axis":{"orient":"bottom","title":"Potential applied (V)","labelFontSize":15,"labelFlush":false,"values":[-1,-0.8,-0.6,-0.4,-0.2,0,0.2],"labelExpr":"replace(format(datum.value,'.1f'),'−','-')"}},
    "y":{"field":"y","type":"quantitative","scale":{"domain":[-20,20],"nice":false,"zero":false},"axis":{"orient":"left","title":"Specific current (A g⁻¹)","values":[-20,-10,0,10,20],"labelExpr":"replace(format(datum.value,'d'),'−','-')"}},
    "color":{"field":"s","type":"ordinal","scale":{"domain":[5,20,50,100,200,10,30,75,150,250],"range":["#000000","#3a5cff","#22dd22","#7755ff","#800020","#ff1a3a","#cc66ee","#1414ff","#9922ee","#88aa22"]},
     "legend":{"title":null,"orient":"none","legendX":147,"legendY":163,"columns":2,"symbolType":"M-1.35,0L1.35,0","symbolSize":196,"symbolStrokeWidth":2.5,"labelFont":"Liberation Sans","labelFontWeight":"bold","labelFontSize":11,"labelColor":"black","rowPadding":0.3,"columnPadding":4,"labelOffset":5.5,"padding":0,"labelExpr":"datum.label + ' mV s⁻¹'"}},
    "order":{"field":"i","type":"quantitative"}}},
  {"data":{"values":[{"t":"(a)","x":-0.99,"y":18.2},{"t":"MCO-400","x":-0.764,"y":18.2}]},
   "mark":{"type":"text","align":"left","baseline":"middle","fontSize":14,"fontWeight":"bold","color":"black"},
   "encoding":{
    "x":{"field":"x","type":"quantitative","scale":{"domain":[-1,0.2],"nice":false,"zero":false},"axis":{"orient":"bottom","title":null,"labels":false,"tickSize":2.5,"values":[-0.95,-0.9,-0.85,-0.75,-0.7,-0.65,-0.55,-0.5,-0.45,-0.35,-0.3,-0.25,-0.15,-0.1,-0.05,0.05,0.1,0.15]}},
    "y":{"field":"y","type":"quantitative","scale":{"domain":[-20,20],"nice":false,"zero":false},"axis":{"orient":"left","title":null,"labels":false,"tickSize":2.5,"values":[-15,-5,5,15]}},
    "text":{"field":"t"}}}
 ]
},
{
 "width":319,"height":241,
 "resolve":{"axis":{"x":"independent","y":"independent"}},
 "encoding":{
  "x":{"field":"x","type":"quantitative","scale":{"domain":[0,0.5],"nice":false,"zero":false},"axis":null},
  "y":{"field":"y","type":"quantitative","scale":{"domain":[20,120],"nice":false,"zero":false},"axis":null}
 },
 "layer":[
  {"data":{"values":[{"x":0,"x2":0.436,"y":72}]},"mark":{"type":"rule","color":"#bb33bb","strokeWidth":2,"strokeDash":[9,6]},"encoding":{"x2":{"field":"x2"}}},
  {"data":{"values":[{"x":0.358,"x2":0.441,"y":118.3}]},"mark":{"type":"rule","color":"#ff2040","strokeWidth":2,"strokeDash":[10,6]},"encoding":{"x2":{"field":"x2"}}},
  {"data":{"values":[{"x":0,"y":72.6},{"x":0.446,"y":118.3}]},"mark":{"type":"line","color":"#44cc00","strokeWidth":2,"strokeDash":[11,4,3,4]},"encoding":{}},
  {"data":{"values":[{"x":0.217,"x2":0.242,"y":109.9}]},"mark":{"type":"rule","color":"#44cc00","strokeWidth":2,"strokeDash":[9,3,3,3]},"encoding":{"x2":{"field":"x2"}}},
  {"data":{"values":[{"x":0.358,"y":72,"y2":118.3}]},"mark":{"type":"rule","color":"#ff2040","strokeWidth":2},"encoding":{"y2":{"field":"y2"}}},
  {"data":{"values":[{"x":0.358,"y":118.3}]},"mark":{"type":"point","shape":"M0,-1L-0.45,1L0.45,1Z","size":144,"filled":true,"color":"#ff2040","opacity":1,"yOffset":6},"encoding":{}},
  {"data":{"values":[{"x":0.358,"y":72}]},"mark":{"type":"point","shape":"M0,1L-0.45,-1L0.45,-1Z","size":144,"filled":true,"color":"#ff2040","opacity":1,"yOffset":-6},"encoding":{}},
  {"data":{"values":[{"x":0.4505,"y":20,"y2":118.3}]},"mark":{"type":"rule","color":"#2a5cf0","strokeWidth":2},"encoding":{"y2":{"field":"y2"}}},
  {"data":{"values":[{"x":0.4505,"y":118.3}]},"mark":{"type":"point","shape":"M0,-1L-0.45,1L0.45,1Z","size":144,"filled":true,"color":"#2a5cf0","opacity":1,"yOffset":6},"encoding":{}},
  {"data":{"values":[{"x":0.4505,"y":20}]},"mark":{"type":"point","shape":"M0,1L-0.45,-1L0.45,-1Z","size":144,"filled":true,"color":"#2a5cf0","opacity":1,"yOffset":-6},"encoding":{}},
  {"data":{"values":[{"x":0.0156,"y":20,"y2":72}]},"mark":{"type":"rule","color":"#a52a2a","strokeWidth":2},"encoding":{"y2":{"field":"y2"}}},
  {"data":{"values":[{"x":0.0156,"y":72}]},"mark":{"type":"point","shape":"M0,-1L-0.45,1L0.45,1Z","size":144,"filled":true,"color":"#a52a2a","opacity":1,"yOffset":6},"encoding":{}},
  {"data":{"values":[{"x":0.0156,"y":20}]},"mark":{"type":"point","shape":"M0,1L-0.45,-1L0.45,-1Z","size":144,"filled":true,"color":"#a52a2a","opacity":1,"yOffset":-6},"encoding":{}},
  {"data":{"values":[{"x":0.062,"y":34.1},{"x":0.0698,"y":39.0},{"x":0.0807,"y":45.9},{"x":0.0984,"y":57.0},{"x":0.1135,"y":65.7},{"x":0.1396,"y":84.0},{"x":0.180,"y":91.5},{"x":0.221,"y":98.1},{"x":0.3125,"y":105.5},{"x":0.443,"y":116.7},{"x":0.228,"y":116.3}]},
   "mark":{"type":"point","filled":true,"size":85,"opacity":1,"fill":{"gradient":"radial","x1":0.35,"y1":0.3,"r1":0,"x2":0.5,"y2":0.5,"r2":0.6,"stops":[{"offset":0,"color":"#f0eeff"},{"offset":0.45,"color":"#6a50f0"},{"offset":1,"color":"#3010b0"}]}},
   "encoding":{
    "x":{"field":"x","type":"quantitative","scale":{"domain":[0,0.5],"nice":false,"zero":false},"axis":{"orient":"bottom","title":"Scan rate⁻¹ᐟ² (mV⁻¹ᐟ²s¹ᐟ²)","labelFontSize":15,"values":[0,0.1,0.2,0.3,0.4,0.5],"format":".1f","labelFlush":true}},
    "y":{"field":"y","type":"quantitative","scale":{"domain":[20,120],"nice":false,"zero":false},"axis":{"orient":"left","title":"Specific capacitance (F g⁻¹)","titleFontSize":16,"values":[20,40,60,80,100,120],"format":"d"}}}},
  {"data":{"values":[{"t":"(c)","x":0.005,"y":116},{"t":"MCO-400","x":0.105,"y":116},{"t":"Observed","x":0.246,"y":116.3},{"t":"Fitted","x":0.247,"y":109.9}]},
   "mark":{"type":"text","align":"left","baseline":"middle","fontSize":12.5,"fontWeight":"bold","color":"black"},
   "encoding":{
    "x":{"field":"x","type":"quantitative","scale":{"domain":[0,0.5],"nice":false,"zero":false},"axis":{"orient":"bottom","title":null,"labels":false,"tickSize":2.5,"values":[0.02,0.04,0.06,0.08,0.12,0.14,0.16,0.18,0.22,0.24,0.26,0.28,0.32,0.34,0.36,0.38,0.42,0.44,0.46,0.48]}},
    "y":{"field":"y","type":"quantitative","scale":{"domain":[20,120],"nice":false,"zero":false},"axis":{"orient":"left","title":null,"labels":false,"tickSize":2.5,"values":[30,50,70,90,110]}},
    "text":{"field":"t"}}},
  {"data":{"values":[{"t":"Pseudocapacitance","x":0.266,"y":84.4}]},"mark":{"type":"text","align":"center","baseline":"middle","fontSize":12,"fontWeight":"bold","color":"#ee2244"},"encoding":{"text":{"field":"t"}}},
  {"data":{"values":[{"t":"Double layer capacitance","x":0.021,"y":28.9}]},"mark":{"type":"text","align":"left","baseline":"middle","fontSize":12,"fontWeight":"bold","color":"#b03a3a"},"encoding":{"text":{"field":"t"}}},
  {"data":{"values":[{"t":"Total capacitance","x":0.466,"y":72.6}]},"mark":{"type":"text","align":"center","baseline":"middle","angle":270,"fontSize":12,"fontWeight":"bold","color":"#2a5cf0"},"encoding":{"text":{"field":"t"}}}
 ]
},
{
 "width":319,"height":241,
 "resolve":{"axis":{"x":"independent","y":"independent"}},
 "encoding":{
  "x":{"field":"x","type":"quantitative","scale":{"domain":[-1,0.2],"nice":false,"zero":false},"axis":null},
  "y":{"field":"y","type":"quantitative","scale":{"domain":[-60,60],"nice":false,"zero":false},"axis":null}
 },
 "layer":[
  {"data":{"name":"b"},"mark":{"type":"line","strokeWidth":1.6,"clip":true},
   "encoding":{
    "x":{"field":"x","type":"quantitative","scale":{"domain":[-1,0.2],"nice":false,"zero":false},"axis":{"orient":"bottom","title":"Potential applied (V)","labelFontSize":15,"labelFlush":false,"values":[-1,-0.8,-0.6,-0.4,-0.2,0,0.2],"labelExpr":"replace(format(datum.value,'.1f'),'−','-')"}},
    "y":{"field":"y","type":"quantitative","scale":{"domain":[-60,60],"nice":false,"zero":false},"axis":{"orient":"left","title":"Specific current (A g⁻¹)","values":[-60,-40,-20,0,20,40,60],"labelExpr":"replace(format(datum.value,'d'),'−','-')"}},
    "color":{"field":"s","type":"ordinal","scale":{"domain":[5,20,50,100,200,10,30,75,150,250],"range":["#000000","#3a5cff","#22dd22","#7755ff","#800020","#ff1a3a","#cc66ee","#1414ff","#9922ee","#88aa22"]},
     "legend":{"title":null,"orient":"none","legendX":158,"legendY":162,"columns":2,"symbolType":"M-1.35,0L1.35,0","symbolSize":196,"symbolStrokeWidth":2.5,"labelFont":"Liberation Sans","labelFontWeight":"bold","labelFontSize":11,"labelColor":"black","rowPadding":0.3,"columnPadding":0,"labelOffset":5.5,"padding":0,"labelExpr":"datum.label + ' mV s⁻¹'"}},
    "order":{"field":"i","type":"quantitative"}}},
  {"data":{"values":[{"t":"(b)","x":-0.985,"y":54.6},{"t":"MCO-800","x":-0.752,"y":54.6}]},
   "mark":{"type":"text","align":"left","baseline":"middle","fontSize":14,"fontWeight":"bold","color":"black"},
   "encoding":{
    "x":{"field":"x","type":"quantitative","scale":{"domain":[-1,0.2],"nice":false,"zero":false},"axis":{"orient":"bottom","title":null,"labels":false,"tickSize":2.5,"values":[-0.95,-0.9,-0.85,-0.75,-0.7,-0.65,-0.55,-0.5,-0.45,-0.35,-0.3,-0.25,-0.15,-0.1,-0.05,0.05,0.1,0.15]}},
    "y":{"field":"y","type":"quantitative","scale":{"domain":[-60,60],"nice":false,"zero":false},"axis":{"orient":"left","title":null,"labels":false,"tickSize":2.5,"values":[-50,-30,-10,10,30,50]}},
    "text":{"field":"t"}}}
 ]
},
{
 "width":319,"height":241,
 "resolve":{"axis":{"x":"independent","y":"independent"}},
 "encoding":{
  "x":{"field":"x","type":"quantitative","scale":{"domain":[0,0.5],"nice":false,"zero":false},"axis":null},
  "y":{"field":"y","type":"quantitative","scale":{"domain":[100,300],"nice":false,"zero":false},"axis":null}
 },
 "layer":[
  {"data":{"values":[{"x":0,"x2":0.449,"y":150.5}]},"mark":{"type":"rule","color":"#bb33bb","strokeWidth":2,"strokeDash":[9,6]},"encoding":{"x2":{"field":"x2"}}},
  {"data":{"values":[{"x":0.371,"x2":0.449,"y":295}]},"mark":{"type":"rule","color":"#ff2040","strokeWidth":2,"strokeDash":[10,6]},"encoding":{"x2":{"field":"x2"}}},
  {"data":{"values":[{"x":0,"y":153},{"x":0.45,"y":295.3}]},"mark":{"type":"line","color":"#44cc00","strokeWidth":2,"strokeDash":[11,4,3,4]},"encoding":{}},
  {"data":{"values":[{"x":0.215,"x2":0.242,"y":280.2}]},"mark":{"type":"rule","color":"#44cc00","strokeWidth":2,"strokeDash":[9,3,3,3]},"encoding":{"x2":{"field":"x2"}}},
  {"data":{"values":[{"x":0.348,"y":150.5,"y2":295}]},"mark":{"type":"rule","color":"#ff2040","strokeWidth":2},"encoding":{"y2":{"field":"y2"}}},
  {"data":{"values":[{"x":0.348,"y":295}]},"mark":{"type":"point","shape":"M0,-1L-0.45,1L0.45,1Z","size":144,"filled":true,"color":"#ff2040","opacity":1,"yOffset":6},"encoding":{}},
  {"data":{"values":[{"x":0.348,"y":150.5}]},"mark":{"type":"point","shape":"M0,1L-0.45,-1L0.45,-1Z","size":144,"filled":true,"color":"#ff2040","opacity":1,"yOffset":-6},"encoding":{}},
  {"data":{"values":[{"x":0.458,"y":100,"y2":295}]},"mark":{"type":"rule","color":"#2a5cf0","strokeWidth":2},"encoding":{"y2":{"field":"y2"}}},
  {"data":{"values":[{"x":0.458,"y":295}]},"mark":{"type":"point","shape":"M0,-1L-0.45,1L0.45,1Z","size":144,"filled":true,"color":"#2a5cf0","opacity":1,"yOffset":6},"encoding":{}},
  {"data":{"values":[{"x":0.458,"y":100}]},"mark":{"type":"point","shape":"M0,1L-0.45,-1L0.45,-1Z","size":144,"filled":true,"color":"#2a5cf0","opacity":1,"yOffset":-6},"encoding":{}},
  {"data":{"values":[{"x":0.014,"y":100,"y2":150.5}]},"mark":{"type":"rule","color":"#a52a2a","strokeWidth":2},"encoding":{"y2":{"field":"y2"}}},
  {"data":{"values":[{"x":0.014,"y":150.5}]},"mark":{"type":"point","shape":"M0,-1L-0.45,1L0.45,1Z","size":144,"filled":true,"color":"#a52a2a","opacity":1,"yOffset":6},"encoding":{}},
  {"data":{"values":[{"x":0.014,"y":100}]},"mark":{"type":"point","shape":"M0,1L-0.45,-1L0.45,-1Z","size":144,"filled":true,"color":"#a52a2a","opacity":1,"yOffset":-6},"encoding":{}},
  {"data":{"values":[{"x":0.0724,"y":108},{"x":0.083,"y":126.3},{"x":0.101,"y":154.6},{"x":0.117,"y":173.3},{"x":0.143,"y":233.9},{"x":0.184,"y":217.1},{"x":0.2255,"y":233.1},{"x":0.318,"y":261.9},{"x":0.448,"y":283.5},{"x":0.229,"y":292.6}]},
   "mark":{"type":"point","filled":true,"size":85,"opacity":1,"fill":{"gradient":"radial","x1":0.35,"y1":0.3,"r1":0,"x2":0.5,"y2":0.5,"r2":0.6,"stops":[{"offset":0,"color":"#f0eeff"},{"offset":0.45,"color":"#6a50f0"},{"offset":1,"color":"#3010b0"}]}},
   "encoding":{
    "x":{"field":"x","type":"quantitative","scale":{"domain":[0,0.5],"nice":false,"zero":false},"axis":{"orient":"bottom","title":"Scan rate⁻¹ᐟ² (mV⁻¹ᐟ²s¹ᐟ²)","labelFontSize":15,"values":[0,0.1,0.2,0.3,0.4,0.5],"format":".1f","labelFlush":true}},
    "y":{"field":"y","type":"quantitative","scale":{"domain":[100,300],"nice":false,"zero":false},"axis":{"orient":"left","title":"Specific capacitance (F g⁻¹)","titleFontSize":16,"values":[100,150,200,250,300],"format":"d"}}}},
  {"data":{"values":[{"t":"(d)","x":0.009,"y":292.6},{"t":"MCO-800","x":0.103,"y":292.6},{"t":"Observed","x":0.248,"y":292.6},{"t":"Fitted","x":0.248,"y":280.2}]},
   "mark":{"type":"text","align":"left","baseline":"middle","fontSize":12.5,"fontWeight":"bold","color":"black"},
   "encoding":{
    "x":{"field":"x","type":"quantitative","scale":{"domain":[0,0.5],"nice":false,"zero":false},"axis":{"orient":"bottom","title":null,"labels":false,"tickSize":2.5,"values":[0.02,0.04,0.06,0.08,0.12,0.14,0.16,0.18,0.22,0.24,0.26,0.28,0.32,0.34,0.36,0.38,0.42,0.44,0.46,0.48]}},
    "y":{"field":"y","type":"quantitative","scale":{"domain":[100,300],"nice":false,"zero":false},"axis":{"orient":"left","title":null,"labels":false,"tickSize":2.5,"values":[125,175,225,275]}},
    "text":{"field":"t"}}},
  {"data":{"values":[{"t":"Pseudocapacitance","x":0.2526,"y":173.8}]},"mark":{"type":"text","align":"center","baseline":"middle","fontSize":12,"fontWeight":"bold","color":"#ee2244"},"encoding":{"text":{"field":"t"}}},
  {"data":{"values":[{"t":"Double layer capacitance","x":0.019,"y":117.6}]},"mark":{"type":"text","align":"left","baseline":"middle","fontSize":12,"fontWeight":"bold","color":"#b03a3a"},"encoding":{"text":{"field":"t"}}},
  {"data":{"values":[{"t":"Total capacitance","x":0.475,"y":207.5}]},"mark":{"type":"text","align":"center","baseline":"middle","angle":270,"fontSize":12,"fontWeight":"bold","color":"#2a5cf0"},"encoding":{"text":{"field":"t"}}}
 ]
}
]
}
